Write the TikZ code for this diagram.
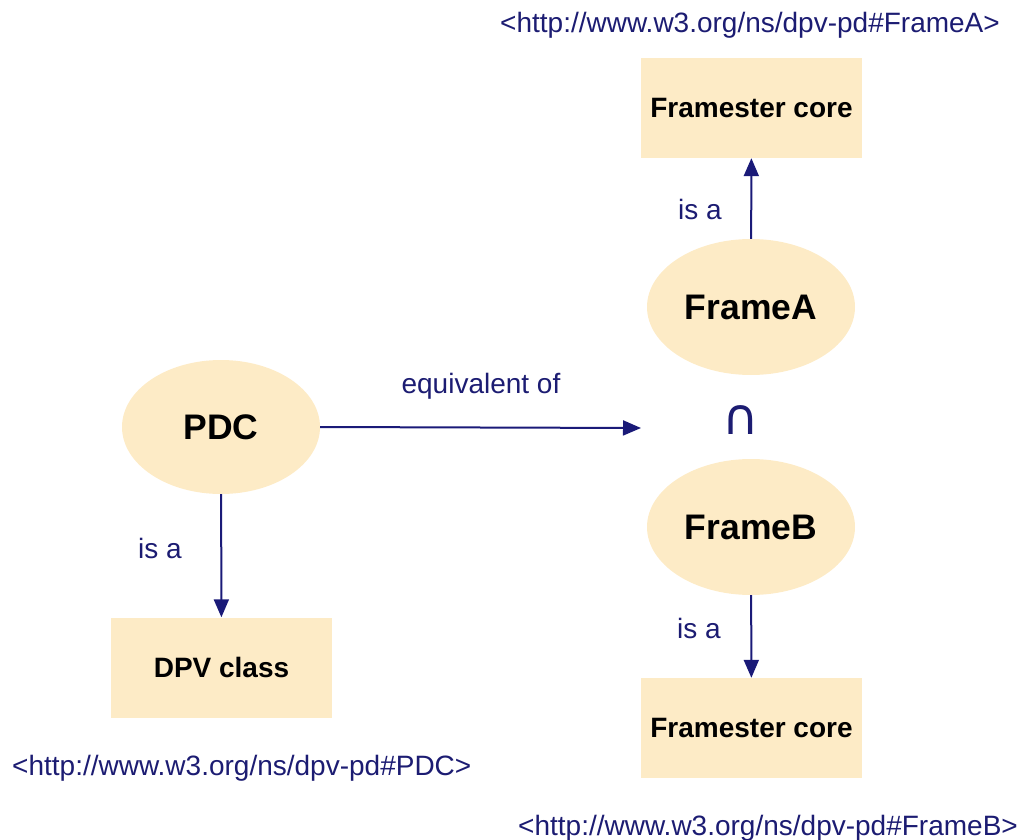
\documentclass[tikz,border=0pt]{standalone}
\usepackage{fontspec}
\setmainfont{Liberation Sans}
\newfontfamily\symfont{DejaVu Sans}
\usetikzlibrary{shapes.geometric,arrows.meta}
\definecolor{cream}{HTML}{FDEBC6}
\definecolor{navy}{HTML}{1C1C72}
\definecolor{arrowblue}{HTML}{1A1A78}
\tikzset{
  concept/.style={ellipse, fill=cream, inner sep=0pt, minimum width=208pt, minimum height=136pt,
    font=\fontsize{35.5}{40}\selectfont\bfseries, text=black},
  classbox/.style={rectangle, fill=cream, inner sep=0pt, minimum width=221pt, minimum height=100pt,
    font=\fontsize{28}{32}\selectfont\bfseries, text=black},
  uri/.style={font=\fontsize{28}{32}\selectfont, text=navy, inner sep=0pt},
  rel/.style={font=\fontsize{28}{32}\selectfont, text=navy, inner sep=0pt},
  link/.style={draw=arrowblue, line width=2pt, -{Triangle[length=18pt,width=15pt]}},
}
\begin{document}
\begin{tikzpicture}[x=1pt,y=-1pt]
\useasboundingbox (0,0) rectangle (1021,840);

% concepts
\node[concept, minimum width=198pt, minimum height=134pt] (pdc) at (221,427) {PDC};
\node[concept] (frameA) at (751,307) {FrameA};
\node[concept] (frameB) at (751,527) {FrameB};

% classes
\node[classbox] (dpv) at (221.5,667.5) {DPV class};
\node[classbox] (coreA) at (751.5,108) {Framester core};
\node[classbox] (coreB) at (751.5,728) {Framester core};

% intersection sign between the two frames
\node[text=navy, inner sep=0pt, font=\symfont\fontsize{50}{54}\selectfont] (cap) at (741,420) {∩};

% identifiers
\node[uri, anchor=west] (uriPDC) at (12,768) {<http://www.w3.org/ns/dpv-pd\#PDC>};
\node[uri] (uriA) at (750,25) {<http://www.w3.org/ns/dpv-pd\#FrameA>};
\node[uri, anchor=east] (uriB) at (1018,828) {<http://www.w3.org/ns/dpv-pd\#FrameB>};

% relations
\coordinate (eqend) at (641,428);
\draw[link] (pdc.east) -- (eqend);
\node[rel] (eqlabel) at (481,386) {equivalent of};

\draw[link] (pdc) -- (dpv);
\node[rel] (isa1) at (160,548) {is a};

\draw[link] (frameA) -- (coreA);
\node[rel] (isa2) at (700,209) {is a};

\draw[link] (frameB) -- (coreB);
\node[rel] (isa3) at (699,628) {is a};
\end{tikzpicture}
\end{document}
